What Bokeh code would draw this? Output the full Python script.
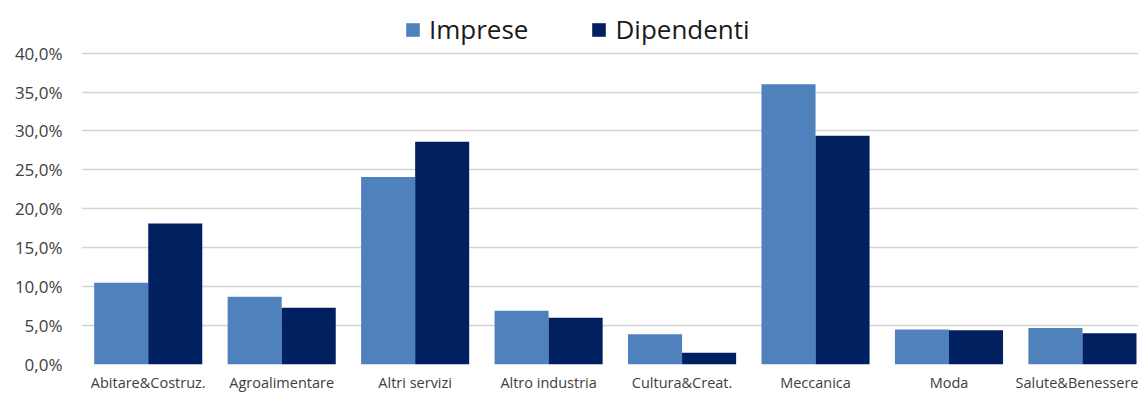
from bokeh.plotting import figure
from bokeh.models import (ColumnDataSource, Range1d, FixedTicker, Legend, LegendItem)
from bokeh.embed import file_html
from bokeh.resources import INLINE

categories = ["Abitare&Costruz.", "Agroalimentare", "Altri servizi", "Altro industria",
              "Cultura&Creat.", "Meccanica", "Moda", "Salute&Benessere"]
imprese = [10.5, 8.7, 24.1, 6.9, 3.9, 36.0, 4.5, 4.7]
dipendenti = [18.1, 7.3, 28.6, 6.0, 1.5, 29.4, 4.4, 4.0]
y_ticks = [0, 5, 10, 15, 20, 25, 30, 35, 40]
y_tick_labels = ["0,0%", "5,0%", "10,0%", "15,0%", "20,0%", "25,0%", "30,0%", "35,0%", "40,0%"]
series_names = ["Imprese", "Dipendenti"]
colors = ["#4F81BD", "#002060"]

FONT = "Open Sans"
idx = list(range(len(categories)))
bar_w = 0.405

p = figure(width=1138, height=394, output_backend="svg", toolbar_location=None,
           x_range=Range1d(-0.5, 7.42), y_range=Range1d(0, 46.76),
           min_border_left=81, min_border_right=0, min_border_top=0, min_border_bottom=0)

src_i = ColumnDataSource(dict(x=[i - bar_w / 2 for i in idx], top=imprese))
src_d = ColumnDataSource(dict(x=[i + bar_w / 2 for i in idx], top=dipendenti))
r1 = p.vbar(x="x", top="top", width=bar_w, source=src_i, fill_color=colors[0], line_color=None)
r2 = p.vbar(x="x", top="top", width=bar_w, source=src_d, fill_color=colors[1], line_color=None)

p.outline_line_color = None
p.background_fill_color = "white"
p.xgrid.grid_line_color = None
p.ygrid.grid_line_color = "#d4d4d4"
p.ygrid.grid_line_width = 1.6

p.yaxis.ticker = FixedTicker(ticks=y_ticks)
p.yaxis.major_label_overrides = {t: l for t, l in zip(y_ticks, y_tick_labels)}
p.yaxis.axis_line_color = None
p.yaxis.major_tick_line_color = None
p.yaxis.major_tick_out = 0
p.yaxis.major_tick_in = 0
p.yaxis.minor_tick_line_color = None
p.yaxis.major_label_standoff = 19
p.yaxis.major_label_text_font = FONT
p.yaxis.major_label_text_font_size = "17px"
p.yaxis.major_label_text_color = "#404040"

p.xaxis.ticker = FixedTicker(ticks=idx)
p.xaxis.major_label_overrides = {i: c for i, c in zip(idx, categories)}
p.xaxis.axis_line_color = None
p.xaxis.major_tick_line_color = None
p.xaxis.major_tick_out = 0
p.xaxis.major_tick_in = 0
p.xaxis.minor_tick_line_color = None
p.xaxis.major_label_standoff = 8
p.xaxis.major_label_text_font = FONT
p.xaxis.major_label_text_font_size = "14.5px"
p.xaxis.major_label_text_color = "#404040"

legend = Legend(items=[LegendItem(label=series_names[0], renderers=[r1]),
                       LegendItem(label=series_names[1], renderers=[r2])],
                orientation="horizontal", location=(323, 317),
                glyph_width=17, glyph_height=17, label_standoff=8, spacing=62,
                label_text_font=FONT, label_text_font_size="26px", label_text_color="#1a1a1a",
                border_line_color=None, background_fill_alpha=0, padding=4, margin=0)
p.add_layout(legend, "center")

open("out.html", "w").write(file_html(p, INLINE))
